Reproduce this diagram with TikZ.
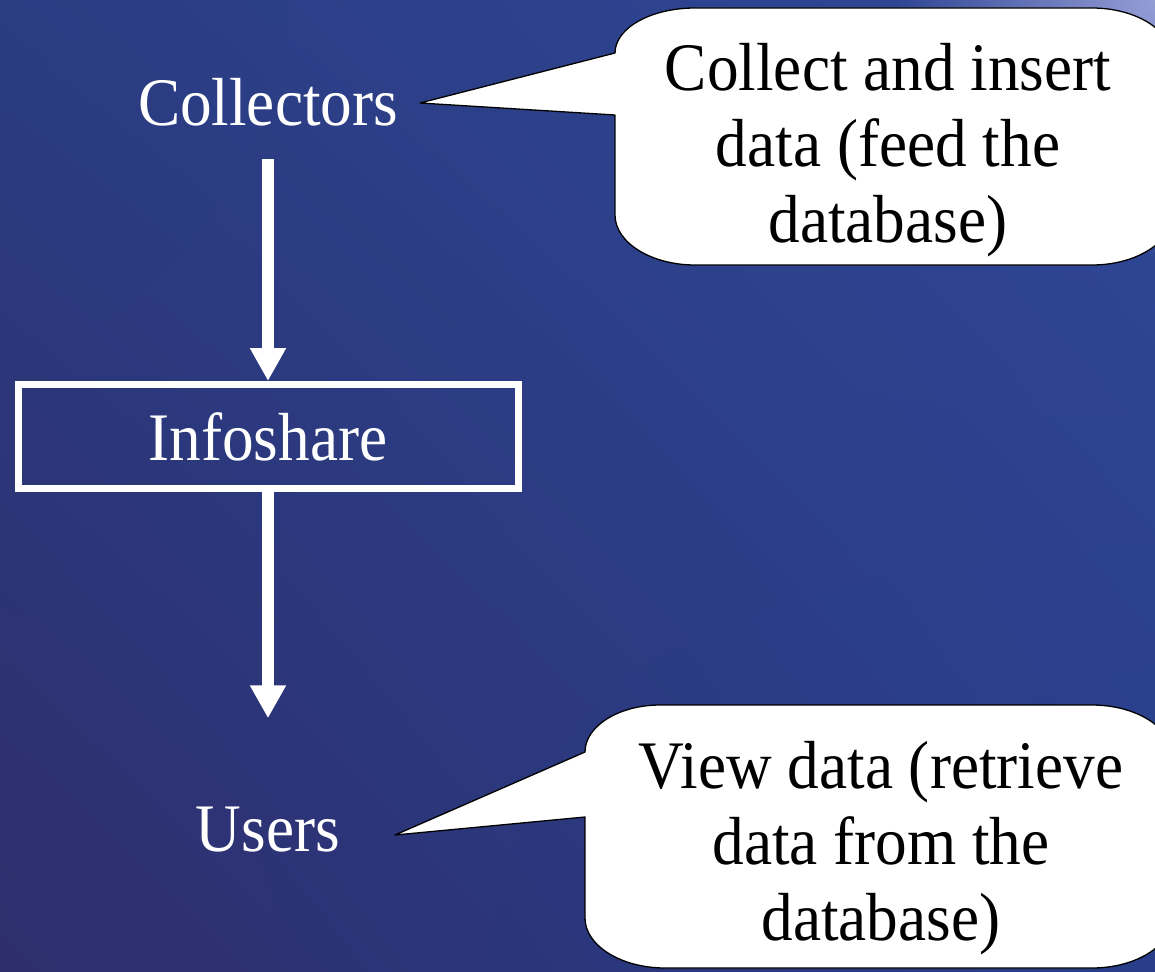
\documentclass[tikz,border=0pt]{standalone}
\usepackage{fontspec}
\setmainfont[FakeStretch=0.93]{Liberation Serif}
\usetikzlibrary{arrows.meta,fadings,shadings}
\definecolor{bgUL}{RGB}{42,60,130}
\definecolor{bgUR}{RGB}{48,72,152}
\definecolor{bgLL}{RGB}{46,46,108}
\definecolor{bgLR}{RGB}{40,62,138}
\definecolor{glow}{RGB}{150,158,215}
\tikzfading[name=glowfade, inner color=transparent!0, outer color=transparent!100]
\begin{document}
\begin{tikzpicture}[x=1pt,y=-1pt,
  lbl/.style={text=white, font=\fontsize{68}{76}\selectfont, inner sep=0pt},
  say/.style={text=black, font=\fontsize{68}{76}\selectfont, align=center, inner sep=0pt},
  flow/.style={draw=white, line width=12pt, -{Triangle[width=34pt,length=33pt]}},
  boxst/.style={draw=white, line width=7pt, minimum width=500pt, minimum height=104pt},
  bubble/.style={fill=white, draw=black, line width=1.3pt, line join=round}]
\useasboundingbox (0,0) rectangle (1155,971);
\clip (0,0) rectangle (1155,971);
% background
\shade[upper left=bgUL, upper right=bgUR, lower left=bgLL, lower right=bgLR] (0,0) rectangle (1155,971);
\fill[glow, path fading=glowfade] (1155,0) circle (260);
% main flow
\node[lbl, anchor=base] (coll) at (268,125) {Collectors};
\node[boxst, lbl] (info) at (268,436.5) {Infoshare};
\node[lbl, anchor=base] (users) at (268,851) {Users};
\draw[flow, shorten <=33pt] (coll.south) -- (info.north);
\draw[flow, shorten >=88pt] (info.south) -- (users.north);
% callout 1
\draw[bubble] (615,115) -- (615,215)
  .. controls (615,242.5) and (651,265) .. (695,265) -- (1092,265)
  .. controls (1136,265) and (1172,242.5) .. (1172,215) -- (1172,58)
  .. controls (1172,30.5) and (1136,8) .. (1092,8) -- (695,8)
  .. controls (651,8) and (615,28) .. (615,53) -- (420,103) -- cycle;
\node[say] (c1) at (888,150) {Collect and insert\\data (feed the\\database)};
% callout 2
\draw[bubble] (585,817) -- (585,918)
  .. controls (585,945.5) and (621,968) .. (665,968) -- (1092,968)
  .. controls (1136,968) and (1172,945.5) .. (1172,918) -- (1172,755)
  .. controls (1172,727.5) and (1136,705) .. (1092,705) -- (660,705)
  .. controls (619,705) and (585,726) .. (585,752) -- (395,835) -- cycle;
\node[say] (c2) at (881,848) {View data (retrieve\\data from the\\database)};
\end{tikzpicture}
\end{document}
